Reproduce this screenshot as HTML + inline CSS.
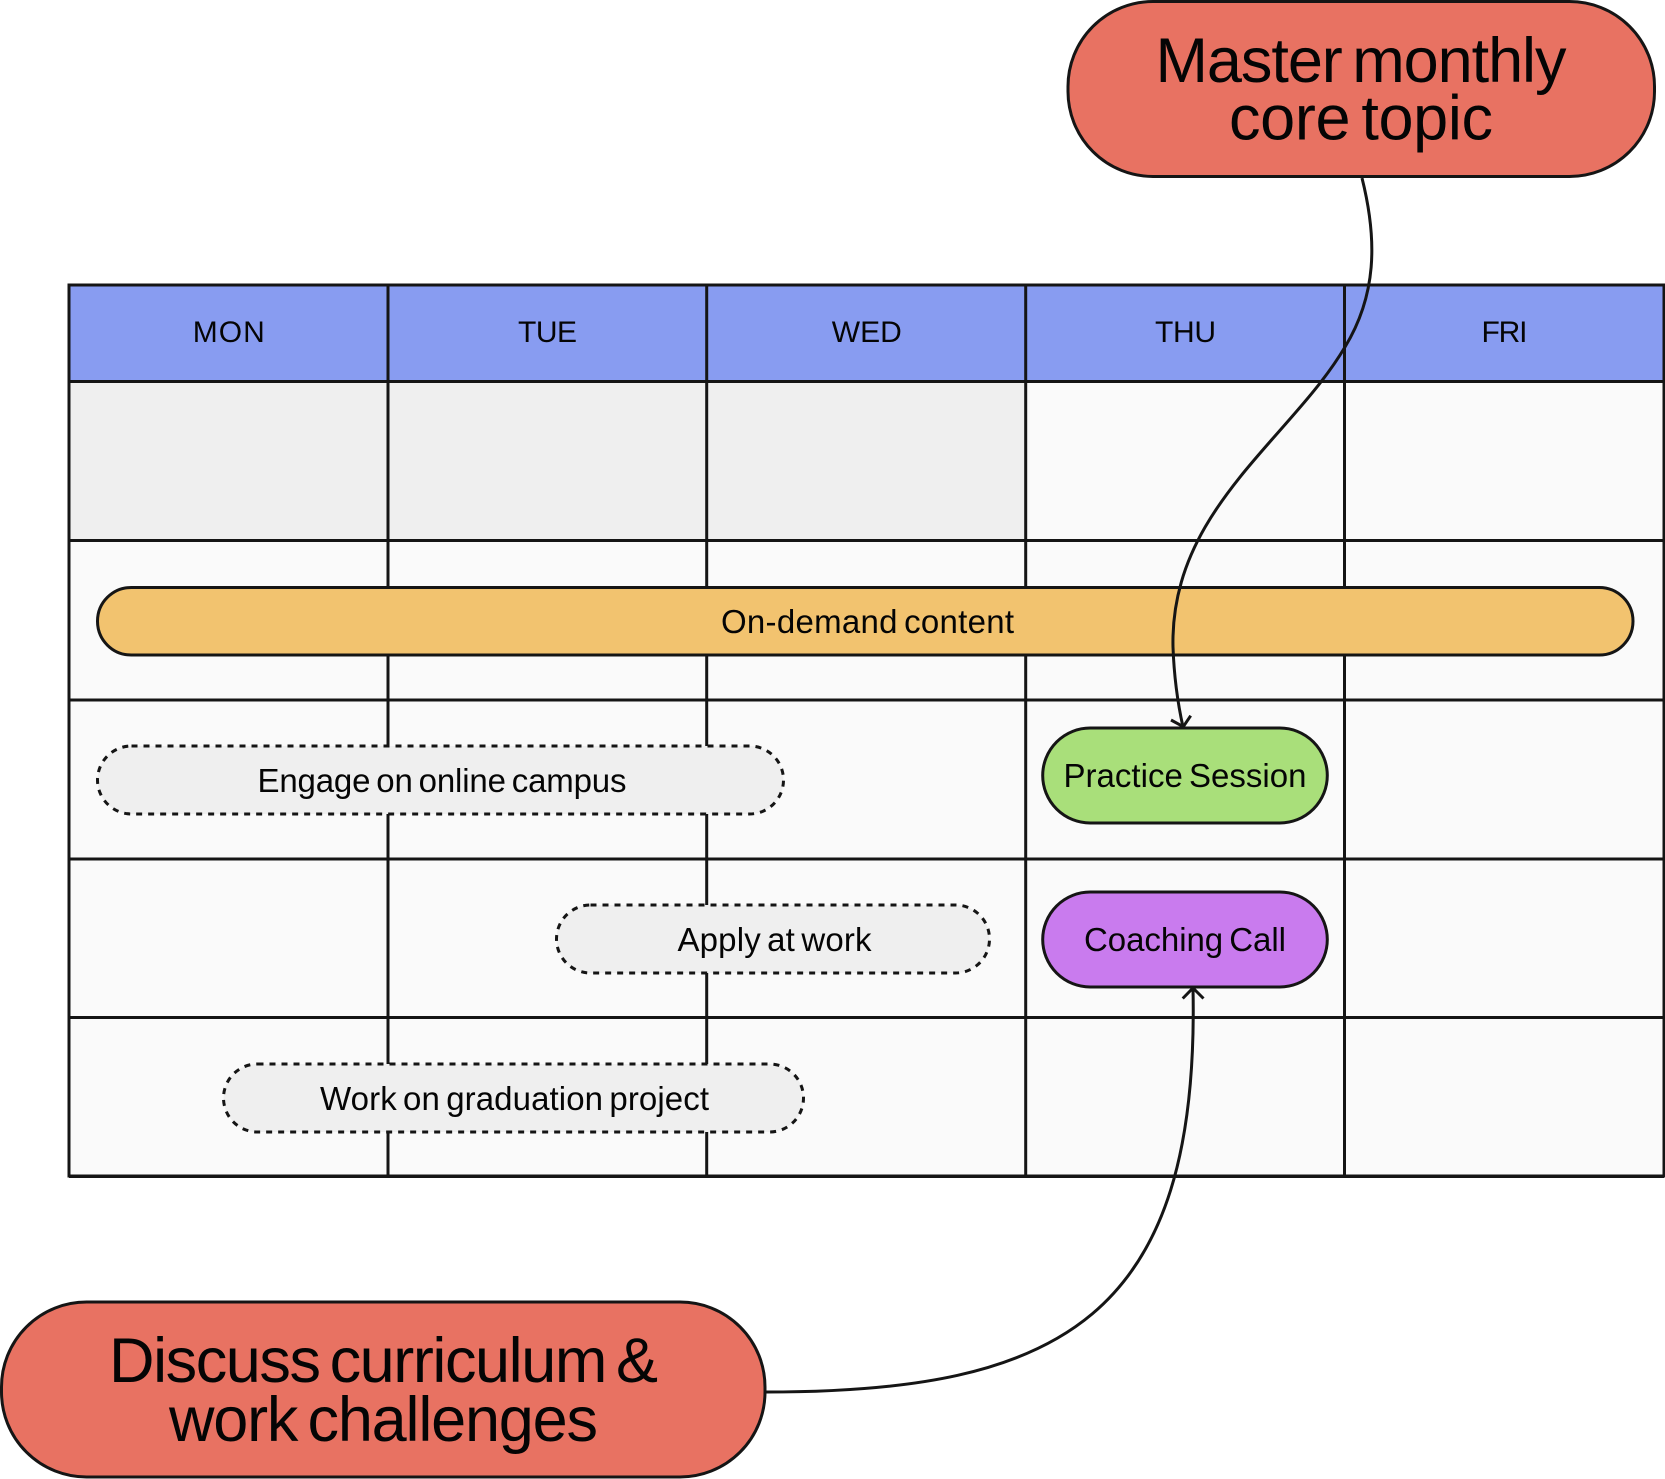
<!DOCTYPE html>
<html>
<head>
<meta charset="utf-8">
<style>
html,body{margin:0;padding:0;background:#fff;}
svg{display:block;}
text{font-family:"Liberation Sans",sans-serif;fill:#050505;}
.s{word-spacing:-3px;}
.b{word-spacing:-6px;}
</style>
</head>
<body>
<svg xmlns="http://www.w3.org/2000/svg" width="1665" height="1479" viewBox="0 0 1665 1479">
<rect width="1665" height="1479" fill="#fff"/>
<!-- table fills -->
<rect x="69" y="285" width="1595" height="96.500" fill="#889CF1"/>
<rect x="69" y="381.500" width="1595" height="794.500" fill="#FAFAFA"/>
<rect x="69" y="381.500" width="957" height="159" fill="#EFEFEF"/>
<!-- grid lines -->
<g stroke="#151515" stroke-width="3" fill="none">
<rect x="69" y="285" width="1595" height="891"/>
<path d="M69 381.500H1664M69 540.500H1664M69 700H1664M69 859H1664M69 1017.500H1664M69 1176.500H1664"/>
<path d="M388 285V1176M706.700 285V1176M1025.700 285V1176M1344.500 285V1176"/>
</g>
<!-- header labels -->
<g font-size="30" text-anchor="middle">
<text x="228.800" y="342" textLength="72" lengthAdjust="spacing">MON</text>
<text x="547.500" y="342" textLength="59" lengthAdjust="spacing">TUE</text>
<text x="866.800" y="342" textLength="70" lengthAdjust="spacing">WED</text>
<text x="1185.500" y="342" textLength="61" lengthAdjust="spacing">THU</text>
<text x="1504.500" y="342" textLength="46" lengthAdjust="spacing">FRI</text>
</g>
<!-- on-demand -->
<rect x="97.500" y="587.500" width="1535.500" height="67.500" rx="33.700" fill="#F2C36F" stroke="#151515" stroke-width="3"/>
<!-- dashed pills -->
<g fill="#EFEFEF" stroke="#151515" stroke-width="3" stroke-dasharray="6 6">
<rect x="97.500" y="746" width="686" height="68" rx="34"/>
<rect x="556.500" y="905" width="433" height="68" rx="34"/>
<rect x="223.500" y="1064" width="580" height="68" rx="34"/>
</g>
<!-- session pills -->
<rect x="1042.700" y="728" width="284.600" height="95" rx="47.500" fill="#A9DF7A" stroke="#151515" stroke-width="3"/>
<rect x="1042.700" y="892" width="284.600" height="95" rx="47.500" fill="#C97BEE" stroke="#151515" stroke-width="3"/>
<!-- big pills -->
<rect x="1068" y="1.500" width="586.500" height="175" rx="85" fill="#E87262" stroke="#151515" stroke-width="3"/>
<rect x="1.500" y="1302" width="763.500" height="175" rx="85" fill="#E87262" stroke="#151515" stroke-width="3"/>
<!-- connectors -->
<g fill="none" stroke="#151515" stroke-width="3">
<path d="M1362 178C1378 242 1376 296 1345 347C1290 440 1170 510 1173 647C1174 675 1177 700 1183 727"/>
<path d="M1171 720L1183.300 726.700L1190.700 715.700"/>
<path d="M766 1392C1060 1392 1200 1318 1193 988"/>
<path d="M1182.700 998.500L1193 988L1203.500 998.500"/>
</g>
<!-- labels -->
<g font-size="33" text-anchor="middle" class="s">
<text x="867.500" y="633" textLength="293" lengthAdjust="spacing">On-demand content</text>
<text x="442" y="792" textLength="369" lengthAdjust="spacing">Engage on online campus</text>
<text x="774.500" y="951" textLength="194" lengthAdjust="spacing">Apply at work</text>
<text x="514.500" y="1110" textLength="389" lengthAdjust="spacing">Work on graduation project</text>
<text x="1185" y="787" textLength="243" lengthAdjust="spacing">Practice Session</text>
<text x="1185" y="951" textLength="202" lengthAdjust="spacing">Coaching Call</text>
</g>
<g font-size="63" text-anchor="middle" class="b">
<text x="1361" y="82" textLength="411" lengthAdjust="spacing">Master monthly</text>
<text x="1361" y="139.500" textLength="264" lengthAdjust="spacing">core topic</text>
<text x="383.500" y="1382" textLength="549" lengthAdjust="spacing">Discuss curriculum &amp;</text>
<text x="383.500" y="1441" textLength="429" lengthAdjust="spacing">work challenges</text>
</g>
</svg>
</body>
</html>
